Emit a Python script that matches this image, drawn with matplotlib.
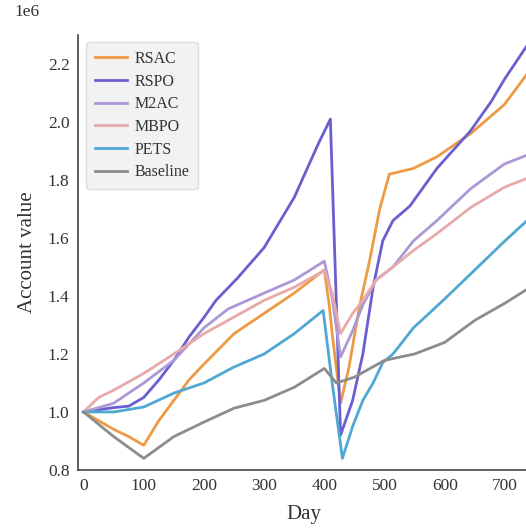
import matplotlib
matplotlib.use("Agg")
import matplotlib.pyplot as plt

plt.rcParams['font.family'] = ['Liberation Serif', 'DejaVu Serif']

# Values in units of 1e6
days_rsac = [0, 25, 50, 75, 100, 125, 150, 175, 200, 250, 300, 350, 400, 408, 413, 427, 441, 458, 475, 492, 508, 548, 587, 643, 699, 742]
rsac = [1.00, 0.97, 0.94, 0.915, 0.885, 0.97, 1.04, 1.11, 1.165, 1.27, 1.34, 1.41, 1.49, 1.37, 1.27, 1.03, 1.155, 1.36, 1.52, 1.70, 1.82, 1.84, 1.88, 1.96, 2.06, 2.18]

days_rspo = [0, 50, 75, 100, 125, 150, 175, 200, 220, 255, 300, 350, 390, 410, 427, 447, 464, 481, 497, 514, 542, 587, 643, 677, 700, 742]
rspo = [1.00, 1.015, 1.02, 1.05, 1.11, 1.178, 1.258, 1.326, 1.385, 1.46, 1.567, 1.74, 1.925, 2.01, 0.92, 1.04, 1.20, 1.43, 1.59, 1.66, 1.71, 1.84, 1.97, 2.07, 2.15, 2.28]

days_m2ac = [0, 50, 100, 150, 200, 240, 300, 350, 400, 413, 427, 447, 464, 486, 514, 548, 587, 643, 699, 742]
m2ac = [1.00, 1.03, 1.10, 1.178, 1.29, 1.355, 1.41, 1.455, 1.52, 1.395, 1.19, 1.28, 1.37, 1.455, 1.50, 1.59, 1.66, 1.77, 1.855, 1.89]

days_mbpo = [0, 25, 50, 100, 150, 200, 240, 300, 350, 400, 413, 427, 447, 464, 486, 514, 548, 587, 643, 699, 742]
mbpo = [1.00, 1.05, 1.075, 1.133, 1.20, 1.27, 1.316, 1.385, 1.43, 1.488, 1.41, 1.27, 1.34, 1.385, 1.455, 1.50, 1.557, 1.615, 1.705, 1.775, 1.81]

days_pets = [0, 50, 100, 150, 200, 250, 300, 350, 398, 413, 430, 447, 464, 481, 497, 514, 548, 600, 650, 700, 742]
pets = [1.00, 1.00, 1.017, 1.065, 1.10, 1.155, 1.20, 1.27, 1.35, 1.10, 0.84, 0.95, 1.04, 1.10, 1.17, 1.20, 1.29, 1.39, 1.49, 1.59, 1.67]

days_base = [0, 50, 100, 150, 200, 250, 300, 350, 400, 420, 450, 500, 550, 600, 650, 700, 742]
baseline = [1.00, 0.915, 0.84, 0.915, 0.965, 1.013, 1.04, 1.085, 1.15, 1.10, 1.12, 1.178, 1.20, 1.24, 1.316, 1.375, 1.43]

series = [
    ("RSAC", days_rsac, rsac, "#ee9a45"),
    ("RSPO", days_rspo, rspo, "#6a5fd0"),
    ("M2AC", days_m2ac, m2ac, "#ac98d6"),
    ("MBPO", days_mbpo, mbpo, "#e8a9ab"),
    ("PETS", days_pets, pets, "#4ea8d2"),
    ("Baseline", days_base, baseline, "#8c8c8c"),
]

xticks = [0, 100, 200, 300, 400, 500, 600, 700]
yticks = [0.8, 1.0, 1.2, 1.4, 1.6, 1.8, 2.0, 2.2]

text_color = "#333333"

fig = plt.figure(figsize=(5.26, 5.31), dpi=100)
ax = fig.add_axes([0.148, 0.115, 0.86, 0.819])

for name, d, v, c in series:
    ax.plot(d, v, color=c, lw=2.0, label=name)

ax.set_xlim(-9.5, 742)
ax.set_ylim(0.8, 2.3)
ax.set_xticks(xticks)
ax.set_yticks(yticks)
ax.set_yticklabels([f"{y:.1f}" for y in yticks])
ax.tick_params(axis='both', labelsize=12.5, colors=text_color, length=0, pad=6)
ax.set_xlabel("Day", fontsize=15, color=text_color, labelpad=8)
ax.set_ylabel("Account value", fontsize=15, color=text_color, labelpad=8)
fig.text(0.027, 0.977, "1e6", fontsize=12.5, color=text_color, ha='left', va='center')

for s in ['top', 'right']:
    ax.spines[s].set_visible(False)
for s in ['left', 'bottom']:
    ax.spines[s].set_color("#444444")
    ax.spines[s].set_linewidth(1.2)

leg = ax.legend(loc='upper left', fontsize=11.5, frameon=True, fancybox=True,
                facecolor="#f2f2f2", edgecolor="#dddddd", framealpha=1.0,
                handlelength=2.0, handletextpad=0.5, labelspacing=0.42, borderpad=0.55,
                bbox_to_anchor=(0.0, 1.002))
for t in leg.get_texts():
    t.set_color(text_color)

fig.savefig("out.png", dpi=100)
